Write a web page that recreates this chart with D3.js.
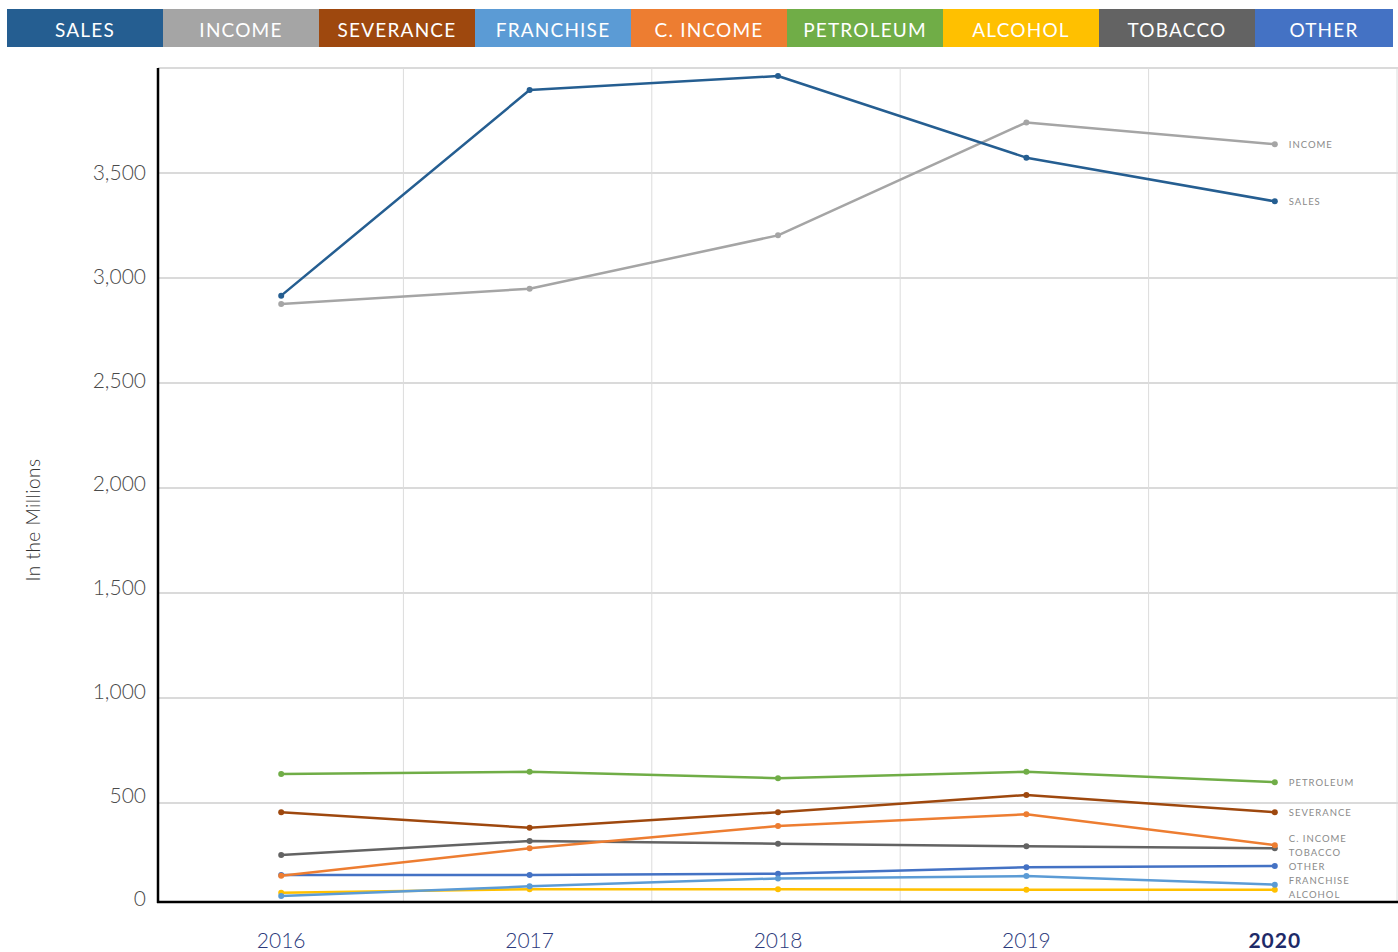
<!DOCTYPE html>
<html>
<head>
<meta charset="utf-8">
<script src="https://cdn.jsdelivr.net/npm/d3@7"></script>
<style>
    body { margin: 0; background: #fff; }
    svg { display: block; font-family: "Lato", "Noto Sans", sans-serif; }
    .legend text { fill: #fff; font-size: 19px; letter-spacing: 1.2px; }
    .tick-y { fill: #4a4a4a; font-size: 21px; font-weight: 300; }
    .tick-x { fill: #2c3a7c; font-size: 21px; font-weight: 300; }
    .tick-x.last { fill: #1e2a68; font-weight: 700; letter-spacing: 1px; }
    .end-label { fill: #8a8a8a; font-size: 9.5px; letter-spacing: 1px; }
</style>
</head>
<body>
<div id="chart"></div>
<script>
const years = ["2016", "2017", "2018", "2019", "2020"];
const seriesNames = ["SALES", "INCOME", "SEVERANCE", "FRANCHISE", "C. INCOME", "PETROLEUM", "ALCOHOL", "TOBACCO", "OTHER"];
const seriesColors = ["#255e91", "#a5a5a5", "#9e480e", "#5b9bd5", "#ed7d31", "#70ad47", "#ffc000", "#636363", "#4472c4"];

// values in millions
const sales = [2916, 3895, 3962, 3573, 3365];
const income = [2876, 2949, 3203, 3741, 3637];
const severance = [456, 382, 456, 538, 456];
const franchise = [57, 103, 141, 152, 111];
const cIncome = [154, 284, 390, 446, 299];
const petroleum = [638, 649, 618, 649, 599];
const alcohol = [73, 89, 89, 87, 87];
const tobacco = [252, 319, 306, 294, 284];
const other = [157, 157, 163, 194, 200];

const yTicks = [0, 500, 1000, 1500, 2000, 2500, 3000, 3500];

const seriesValues = [sales, income, severance, franchise, cIncome, petroleum, alcohol, tobacco, other];
const series = seriesNames.map((name, i) => ({
    name: name,
    color: seriesColors[i],
    values: seriesValues[i].map((v, j) => ({ year: years[j], value: v }))
}));

const width = 1398;
const height = 952;

const plot = { left: 157, right: 1399, top: 68, bottom: 908, axis: 902 };

const svg = d3.select("#chart")
    .append("svg")
    .attr("width", width)
    .attr("height", height);

// Legend strip on top
const legendX = d3.scaleBand()
    .domain(seriesNames)
    .range([7, 7 + 156 * seriesNames.length]);

const legendW = d => Math.min(legendX.bandwidth(), 1393 - legendX(d.name));

const legend = svg.append("g").attr("class", "legend");

const legendItem = legend.selectAll("g")
    .data(series)
    .enter()
    .append("g");

legendItem.append("rect")
    .attr("x", d => legendX(d.name))
    .attr("y", 9)
    .attr("width", legendW)
    .attr("height", 38)
    .attr("fill", d => d.color);

legendItem.append("text")
    .attr("x", d => legendX(d.name) + legendW(d) / 2)
    .attr("y", 30)
    .attr("dy", "0.35em")
    .attr("text-anchor", "middle")
    .text(d => d.name);

// Scales
const xScale = d3.scaleBand()
    .domain(years)
    .range([plot.left, plot.right]);

const yScale = d3.scaleLinear()
    .domain([0, 4000])
    .range([plot.bottom, plot.top]);

// tick labels sit on a slightly tighter spacing than the grid
const yLabelScale = d3.scaleLinear()
    .domain([0, 3500])
    .range([899, 173]);

const xMid = d => xScale(d) + xScale.bandwidth() / 2;

// Grid
const grid = svg.append("g").attr("class", "grid");

grid.selectAll("line.h")
    .data(yTicks.filter(t => t > 0).concat([4000]))
    .enter()
    .append("line")
    .attr("class", "h")
    .attr("x1", 158)
    .attr("x2", 1398)
    .attr("y1", d => yScale(d))
    .attr("y2", d => yScale(d))
    .attr("stroke", "#dadada")
    .attr("stroke-width", 2);

grid.selectAll("line.v")
    .data(years.slice(1))
    .enter()
    .append("line")
    .attr("class", "v")
    .attr("x1", d => xScale(d) - 2)
    .attr("x2", d => xScale(d) - 2)
    .attr("y1", plot.top)
    .attr("y2", plot.axis)
    .attr("stroke", "#dcdcdc")
    .attr("stroke-width", 1);

grid.append("line")
    .attr("x1", 1397).attr("x2", 1397)
    .attr("y1", plot.top).attr("y2", plot.axis)
    .attr("stroke", "#dcdcdc")
    .attr("stroke-width", 1);

// Y tick labels
svg.append("g")
    .selectAll("text")
    .data(yTicks)
    .enter()
    .append("text")
    .attr("class", "tick-y")
    .attr("x", 146)
    .attr("y", d => yLabelScale(d))
    .attr("dy", "0.35em")
    .attr("text-anchor", "end")
    .text(d => d3.format(",")(d));

svg.append("text")
    .attr("transform", "translate(40,520) rotate(-90)")
    .attr("text-anchor", "middle")
    .attr("fill", "#333")
    .attr("font-size", 19)
    .attr("font-weight", 300)
    .attr("letter-spacing", 0.5)
    .text("In the Millions");

// X tick labels
svg.append("g")
    .selectAll("text")
    .data(years)
    .enter()
    .append("text")
    .attr("class", (d, i) => i === years.length - 1 ? "tick-x last" : "tick-x")
    .attr("x", d => xMid(d))
    .attr("y", 948)
    .attr("text-anchor", "middle")
    .text(d => d);

// Lines
const line = d3.line()
    .x(d => xMid(d.year))
    .y(d => yScale(d.value));

const lines = svg.append("g").attr("class", "lines");

const lineGroup = lines.selectAll("g")
    .data(series.slice().reverse())
    .enter()
    .append("g");

lineGroup.append("path")
    .attr("d", d => line(d.values))
    .attr("fill", "none")
    .attr("stroke", d => d.color)
    .attr("stroke-width", 2.5)
    .attr("stroke-linejoin", "round");

lineGroup.selectAll("circle")
    .data(d => d.values.map(v => ({ year: v.year, value: v.value, color: d.color })))
    .enter()
    .append("circle")
    .attr("cx", d => xMid(d.year))
    .attr("cy", d => yScale(d.value))
    .attr("r", 3)
    .attr("fill", d => d.color);

// Axis lines
svg.append("line")
    .attr("x1", 158).attr("x2", 158)
    .attr("y1", plot.top).attr("y2", plot.axis + 1)
    .attr("stroke", "#000")
    .attr("stroke-width", 2.5);

svg.append("line")
    .attr("x1", 157).attr("x2", 1398)
    .attr("y1", plot.axis).attr("y2", plot.axis)
    .attr("stroke", "#000")
    .attr("stroke-width", 2.5);

// End labels, spread so they don't collide
const gap = 14;
let labelPos = series.map(s => ({ name: s.name, y0: yScale(s.values[s.values.length - 1].value) }))
    .sort((a, b) => a.y0 - b.y0);

let clusters = labelPos.map(l => ({ items: [l], mean: l.y0 }));
let merged = true;
while (merged) {
    merged = false;
    for (let i = 0; i < clusters.length - 1; i++) {
        const a = clusters[i], b = clusters[i + 1];
        const aBottom = a.mean + (a.items.length - 1) * gap / 2;
        const bTop = b.mean - (b.items.length - 1) * gap / 2;
        if (bTop - aBottom < gap) {
            const items = a.items.concat(b.items);
            clusters.splice(i, 2, { items: items, mean: d3.mean(items, d => d.y0) });
            merged = true;
            break;
        }
    }
}
clusters.forEach(c => {
    c.items.forEach((it, k) => {
        it.y = c.mean + (k - (c.items.length - 1) / 2) * gap;
    });
});

svg.append("g")
    .selectAll("text")
    .data(labelPos)
    .enter()
    .append("text")
    .attr("class", "end-label")
    .attr("x", xMid(years[years.length - 1]) + 14)
    .attr("y", d => d.y)
    .attr("dy", "0.35em")
    .text(d => d.name);
</script>
</body>
</html>
